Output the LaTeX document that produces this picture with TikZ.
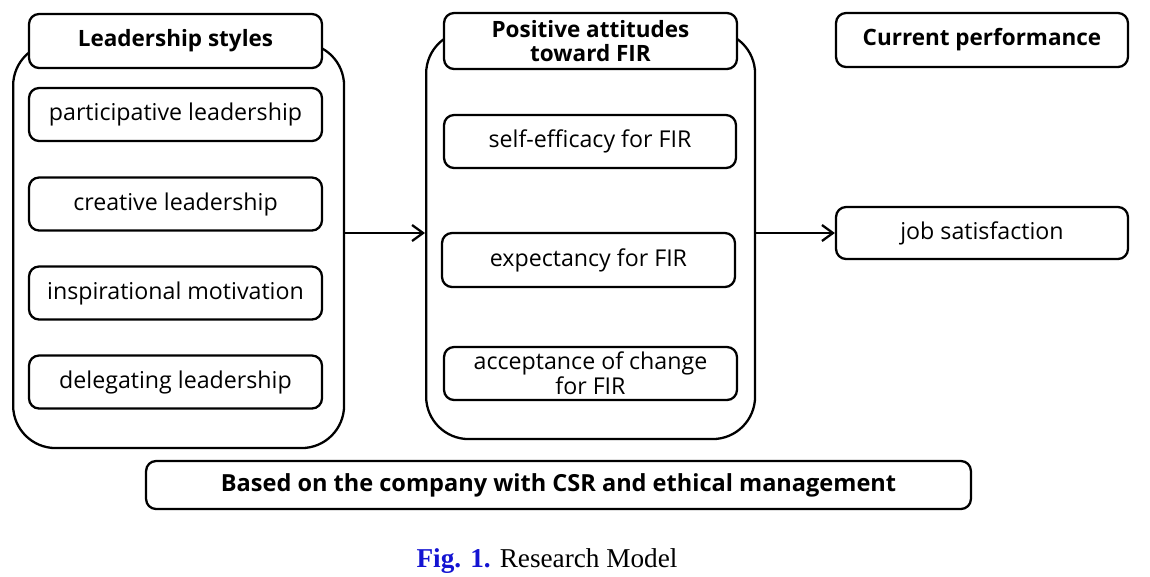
\documentclass[tikz,border=0pt]{standalone}
\usepackage{fontspec}
\setmainfont{Open Sans}
\newfontfamily\capfont{Liberation Serif}
\usetikzlibrary{arrows.meta}
\definecolor{figblue}{RGB}{20,20,210}
\begin{document}
\begin{tikzpicture}[x=0.02cm,y=-0.02cm,
  box/.style={draw=black, fill=white, line width=1.3pt, rounded corners=0.2cm, inner sep=0pt, align=center, font=\fontsize{13.2}{14}\selectfont},
  headbox/.style={box, font=\fontsize{12.8}{14}\selectfont\bfseries},
  container/.style={draw=black, line width=1.3pt, rounded corners=0.85cm},
  conn/.style={line width=1.3pt, -{Straight Barb[length=2.2mm,width=3.2mm,line width=1.3pt]}}]
\useasboundingbox (0,0) rectangle (1150,576);
% containers
\node[container, minimum width=6.62cm, minimum height=8.1cm, anchor=north west, inner sep=0pt] (lc) at (12,42) {};
\node[container, minimum width=6.58cm, minimum height=8.16cm, anchor=north west, inner sep=0pt] (mc) at (425,30) {};
% left column
\node[headbox, minimum width=5.86cm, minimum height=1.08cm] (lh) at (175.5,41) {Leadership styles};
\node[box, minimum width=5.86cm, minimum height=1.06cm] (l1) at (175.5,114.5) {participative leadership};
\node[box, minimum width=5.86cm, minimum height=1.06cm] (l2) at (175.5,204) {creative leadership};
\node[box, minimum width=5.86cm, minimum height=1.06cm] (l3) at (175.5,293) {inspirational motivation};
\node[box, minimum width=5.86cm, minimum height=1.06cm] (l4) at (175.5,382) {delegating leadership};
% middle column
\node[headbox, minimum width=5.86cm, minimum height=1.12cm] (mh) at (590.5,41) {Positive attitudes\\toward FIR};
\node[box, minimum width=5.84cm, minimum height=1.06cm] (m1) at (590,141.5) {self-efficacy for FIR};
\node[box, minimum width=5.86cm, minimum height=1.08cm] (m2) at (588.5,260) {expectancy for FIR};
\node[box, minimum width=5.86cm, minimum height=1.06cm, font=\fontsize{13.2}{12.5}\selectfont] (m3) at (590.5,373.5) {acceptance of change\\for FIR};
% right column
\node[headbox, minimum width=5.84cm, minimum height=1.08cm] (rh) at (982,40) {Current performance};
\node[box, minimum width=5.84cm, minimum height=1.04cm] (r1) at (982,233) {job satisfaction};
% bottom
\node[headbox, minimum width=16.5cm, minimum height=0.96cm, font=\fontsize{13.4}{15}\selectfont\bfseries] (base) at (558.5,485) {Based on the company with CSR and ethical management};
% connectors
\draw[conn] (lc.east |- 0,233) -- (mc.west |- 0,233);
\draw[conn] (mc.east |- 0,233) -- (r1.west);
% caption
\node[font=\capfont\fontsize{15.5}{17}\selectfont] (cap) at (547,561) {\textcolor{figblue}{\textbf{Fig. 1.}} Research Model};
\end{tikzpicture}
\end{document}
